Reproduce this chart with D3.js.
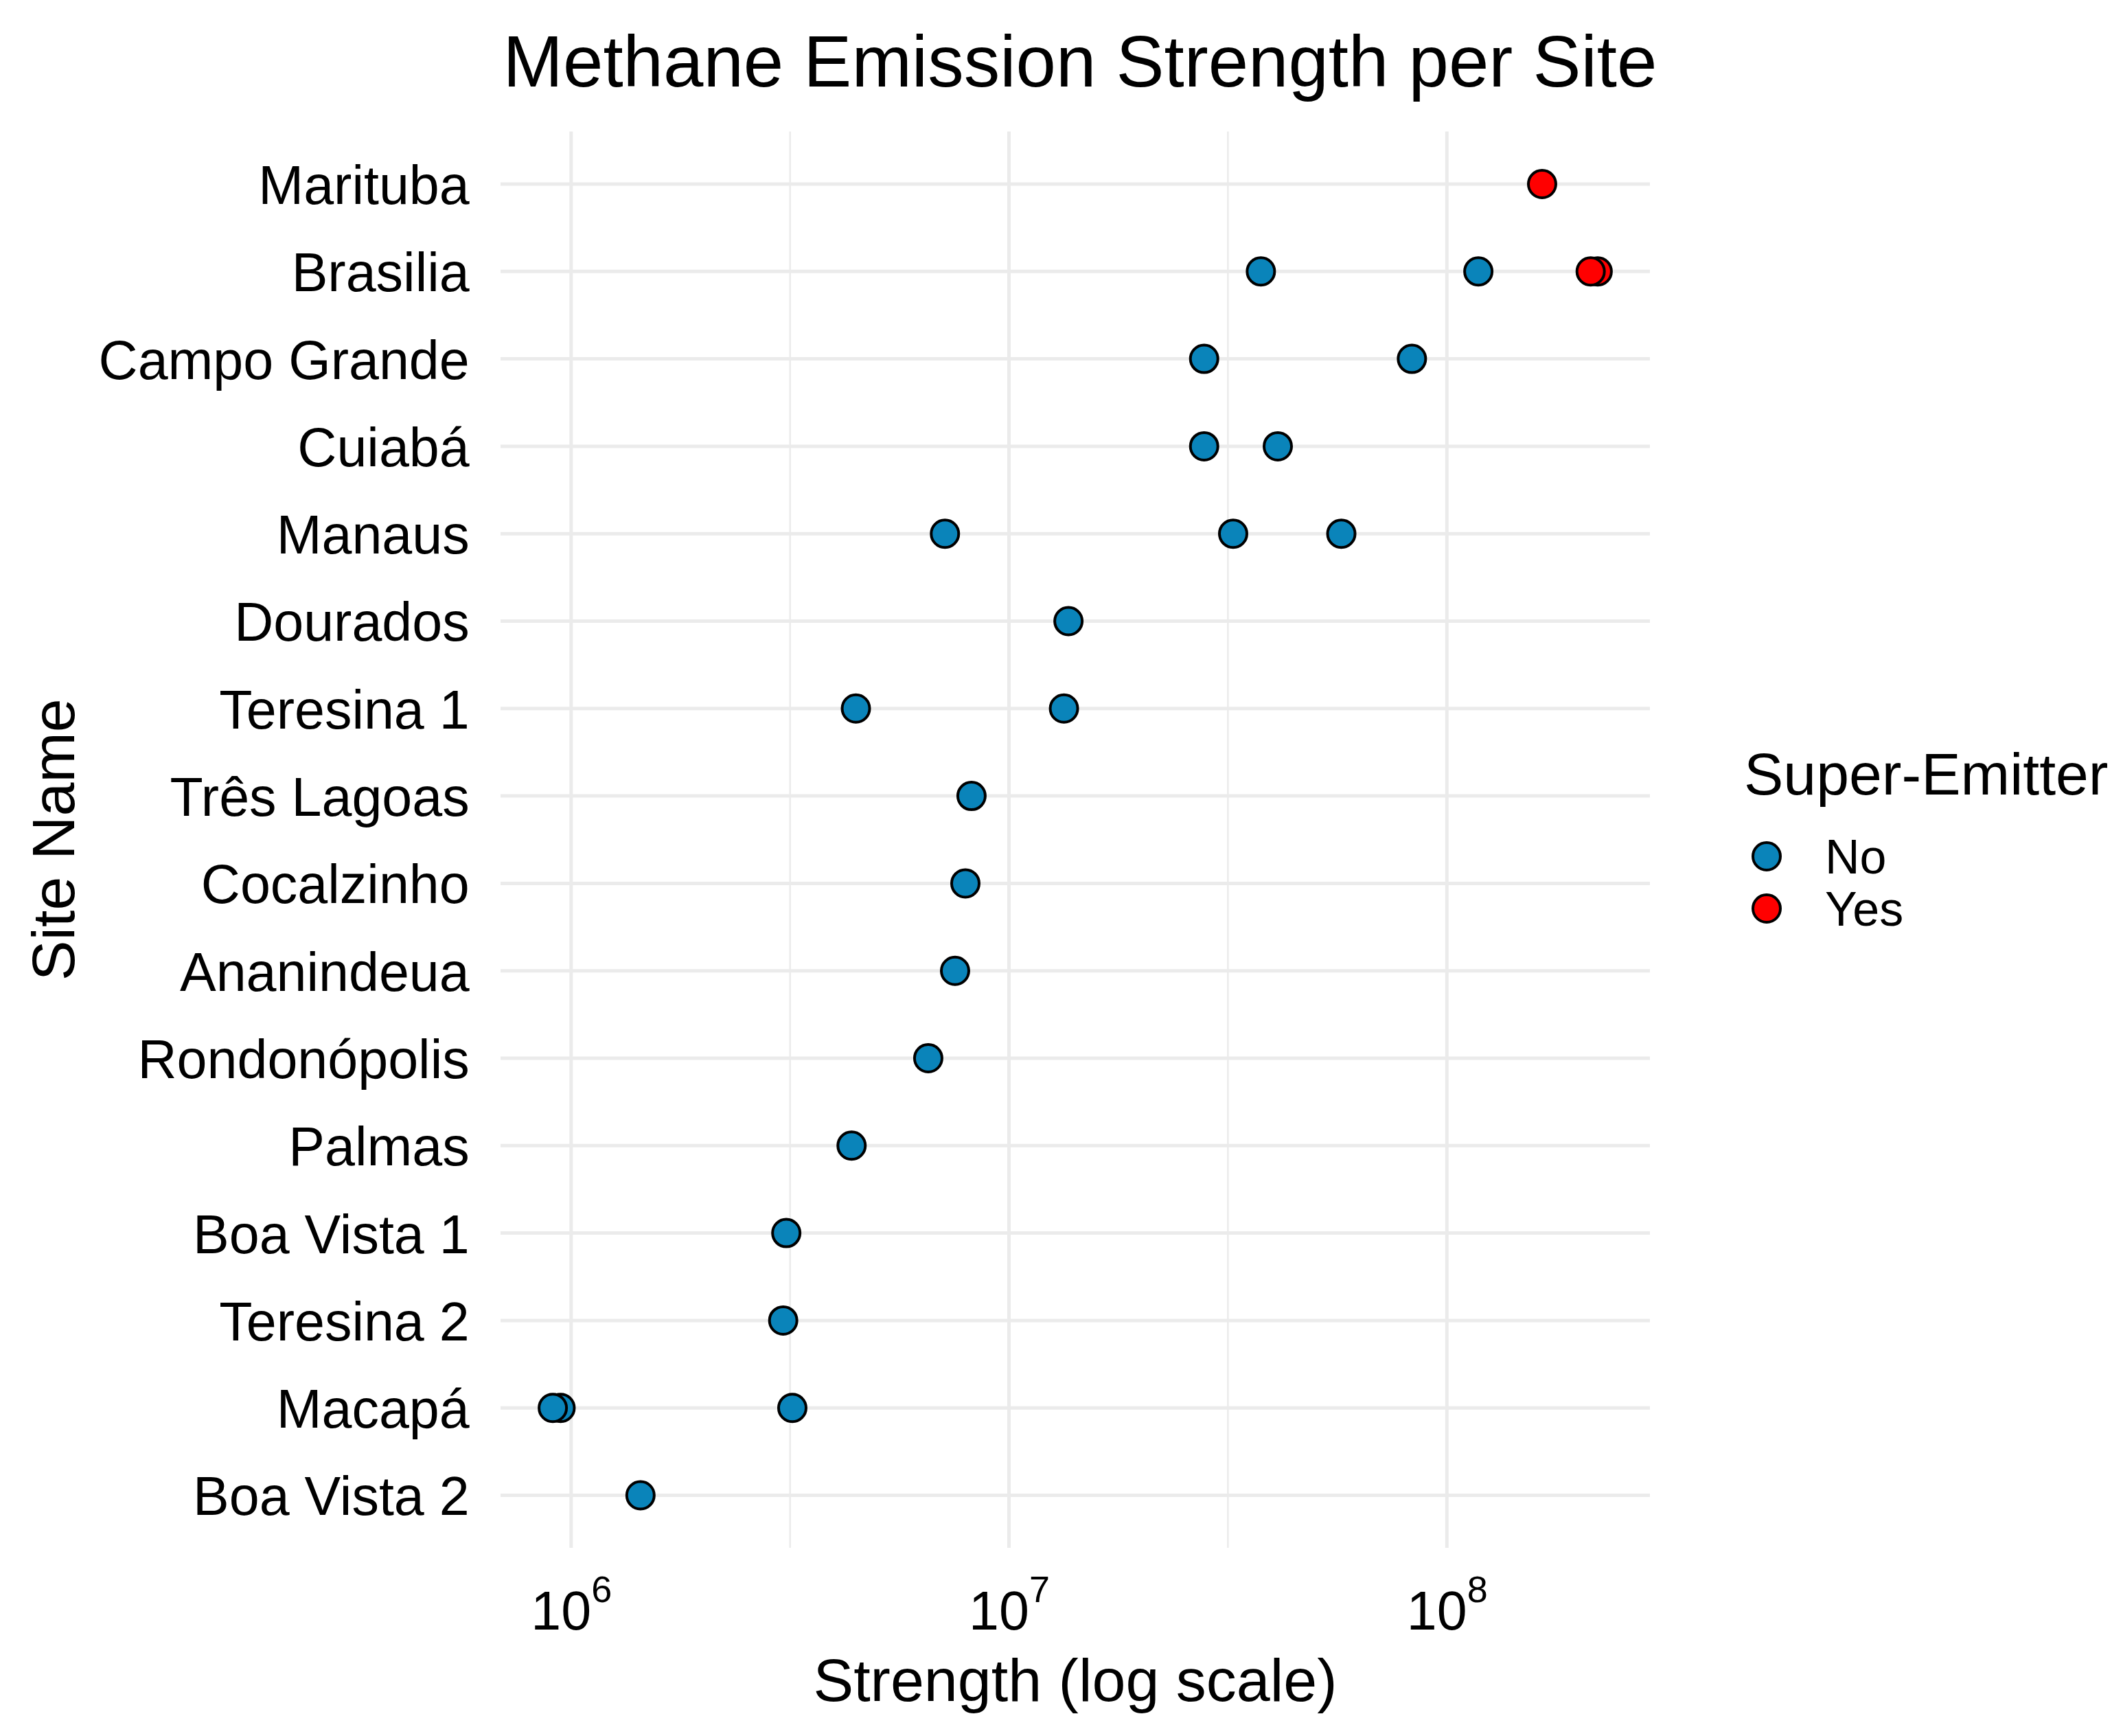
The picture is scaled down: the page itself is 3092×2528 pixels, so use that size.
<!DOCTYPE html>
<html>
<head>
<meta charset="utf-8">
<script src="https://cdn.jsdelivr.net/npm/d3@7"></script>
<style>
  html, body { margin: 0; padding: 0; background: #ffffff; }
  svg text { font-family: "Liberation Sans", Arial, Helvetica, sans-serif; fill: #000; }
</style>
</head>
<body>
<svg id="chart" width="3092" height="2528"></svg>
<script>
// ---------- data ----------
const sites = ["Marituba", "Brasilia", "Campo Grande", "Cuiabá", "Manaus", "Dourados",
  "Teresina 1", "Três Lagoas", "Cocalzinho", "Ananindeua", "Rondonópolis", "Palmas",
  "Boa Vista 1", "Teresina 2", "Macapá", "Boa Vista 2"];

const pointSite = ["Marituba",
  "Brasilia", "Brasilia", "Brasilia", "Brasilia",
  "Campo Grande", "Campo Grande",
  "Cuiabá", "Cuiabá",
  "Manaus", "Manaus", "Manaus",
  "Dourados",
  "Teresina 1", "Teresina 1",
  "Três Lagoas", "Cocalzinho", "Ananindeua", "Rondonópolis", "Palmas",
  "Boa Vista 1", "Teresina 2",
  "Macapá", "Macapá", "Macapá",
  "Boa Vista 2"];

const pointStrength = [1.65e8,
  3.76e7, 1.18e8, 2.21e8, 2.13e8,
  2.79e7, 8.32e7,
  2.79e7, 4.11e7,
  7.14e6, 3.25e7, 5.74e7,
  1.367e7,
  4.47e6, 1.335e7,
  8.21e6, 7.95e6, 7.53e6, 6.54e6, 4.37e6,
  3.10e6, 3.05e6,
  9.46e5, 9.08e5, 3.20e6,
  1.44e6];

const pointSuper = ["Yes",
  "No", "No", "Yes", "Yes",
  "No", "No",
  "No", "No",
  "No", "No", "No",
  "No",
  "No", "No",
  "No", "No", "No", "No", "No",
  "No", "No",
  "No", "No", "No",
  "No"];

const majorTicks = [1e6, 1e7, 1e8];
const legendLevels = ["No", "Yes"];
const legendColors = ["#0A84BA", "#FF0000"];

// ---------- layout ----------
const panel = { left: 729, right: 2403, firstRow: 268, lastRow: 2177.5 };
const fontAxisText = 79, fontAxisTitle = 88, fontTitle = 105, fontLegendTitle = 86, fontLegendText = 70;
const gridColor = "#EBEBEB";

const points = pointSite.map((s, i) => ({ site: s, value: pointStrength[i], sup: pointSuper[i] }));

const svg = d3.select("#chart");
svg.append("rect").attr("width", 3092).attr("height", 2528).attr("fill", "#fff");

// scales
const lmin = Math.log10(d3.min(pointStrength)), lmax = Math.log10(d3.max(pointStrength));
const pad = (lmax - lmin) * 0.05;
const x = d3.scaleLog().domain([Math.pow(10, lmin - pad), Math.pow(10, lmax + pad)])
  .range([panel.left, panel.right]);
const y = d3.scalePoint().domain(sites).range([panel.firstRow, panel.lastRow]);
const step = y.step();
const panelTop = panel.firstRow - 0.6 * step, panelBottom = panel.lastRow + 0.6 * step;
const color = d3.scaleOrdinal().domain(legendLevels).range(legendColors);

// grid
const grid = svg.append("g");
const [d0, d1] = x.domain();
const minorTicks = [];
for (let e = Math.floor(Math.log10(d0)) - 1; e <= Math.ceil(Math.log10(d1)); e++) {
  const v = Math.pow(10, e + 0.5);
  if (v >= d0 && v <= d1) minorTicks.push(v);
}
grid.selectAll("line.minor").data(minorTicks).join("line")
  .attr("x1", d => x(d)).attr("x2", d => x(d))
  .attr("y1", panelTop).attr("y2", panelBottom)
  .attr("stroke", gridColor).attr("stroke-width", 2.5);
grid.selectAll("line.majorx").data(majorTicks).join("line")
  .attr("x1", d => x(d)).attr("x2", d => x(d))
  .attr("y1", panelTop).attr("y2", panelBottom)
  .attr("stroke", gridColor).attr("stroke-width", 5);
grid.selectAll("line.majory").data(sites).join("line")
  .attr("x1", panel.left).attr("x2", panel.right)
  .attr("y1", d => y(d)).attr("y2", d => y(d))
  .attr("stroke", gridColor).attr("stroke-width", 5);

// axes
const xAxis = svg.append("g").attr("transform", `translate(0,${panelBottom})`)
  .call(d3.axisBottom(x).tickValues(majorTicks).tickSize(0).tickFormat(""));
xAxis.select(".domain").remove();
xAxis.selectAll(".tick text").each(function (d) {
  const t = d3.select(this);
  t.attr("y", 2373 - panelBottom).attr("dy", null)
    .attr("font-size", fontAxisText).attr("text-anchor", "middle").attr("fill", "#000");
  t.text(null);
  t.append("tspan").text("10");
  t.append("tspan").attr("font-size", 54).attr("dy", -40).text(Math.round(Math.log10(d)));
});

const yAxis = svg.append("g").attr("transform", `translate(${panel.left},0)`)
  .call(d3.axisLeft(y).tickSize(0).tickPadding(45));
yAxis.select(".domain").remove();
yAxis.selectAll(".tick text")
  .attr("font-size", fontAxisText).attr("fill", "#000")
  .attr("dy", null).attr("y", fontAxisText * 0.36)
  .attr("x", 683.7 - panel.left);

// points
svg.append("g").selectAll("circle").data(points).join("circle")
  .attr("cx", d => x(d.value)).attr("cy", d => y(d.site)).attr("r", 20)
  .attr("fill", d => color(d.sup)).attr("stroke", "#000").attr("stroke-width", 4);

// titles
svg.append("text").attr("x", (panel.left + panel.right) / 2 + 7).attr("y", 126)
  .attr("text-anchor", "middle").attr("font-size", fontTitle)
  .text("Methane Emission Strength per Site");
svg.append("text").attr("x", (panel.left + panel.right) / 2).attr("y", 2477)
  .attr("text-anchor", "middle").attr("font-size", fontAxisTitle)
  .text("Strength (log scale)");
svg.append("text").attr("transform", `translate(108,${(panelTop + panelBottom) / 2}) rotate(-90)`)
  .attr("text-anchor", "middle").attr("font-size", fontAxisTitle)
  .text("Site Name");

// legend
const lg = svg.append("g");
lg.append("text").attr("x", 2540).attr("y", 1157).attr("font-size", fontLegendTitle).text("Super-Emitter");
const keyY = d3.scalePoint().domain(legendLevels).range([1247, 1323]);
lg.selectAll("circle").data(legendLevels).join("circle")
  .attr("cx", 2573).attr("cy", d => keyY(d)).attr("r", 20)
  .attr("fill", d => color(d)).attr("stroke", "#000").attr("stroke-width", 4);
lg.selectAll("text.lab").data(legendLevels).join("text").attr("class", "lab")
  .attr("x", 2658).attr("y", d => keyY(d) + 0.36 * fontLegendText)
  .attr("font-size", fontLegendText).text(d => d);
</script>
</body>
</html>
